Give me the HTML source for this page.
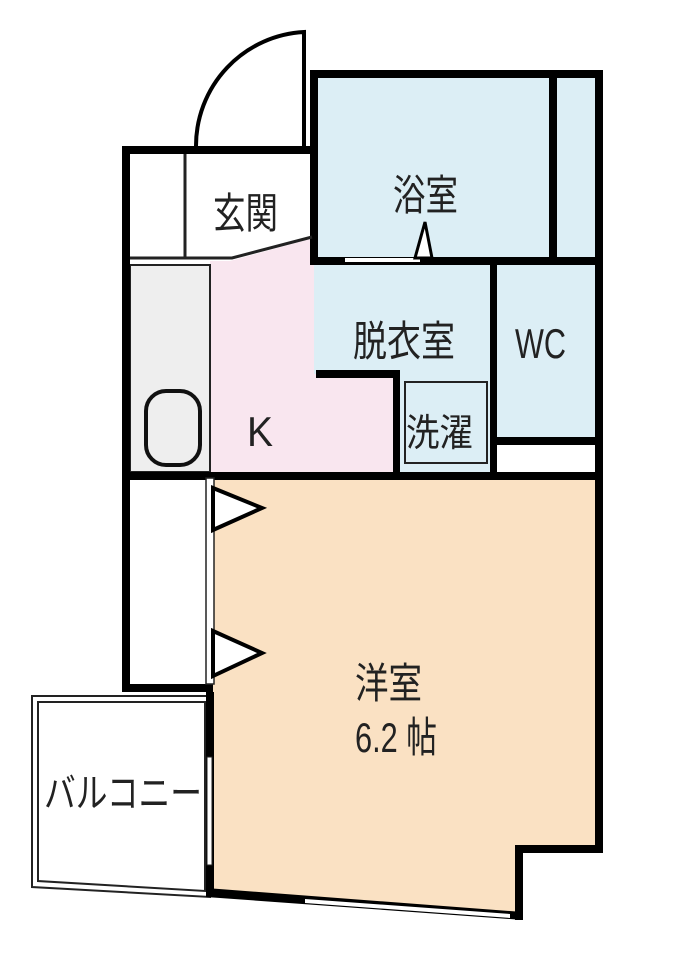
<!DOCTYPE html>
<html><head><meta charset="utf-8"><style>
html,body{margin:0;padding:0;background:#fff}
svg{display:block}
text{font-family:"Liberation Sans","Noto Sans CJK JP",sans-serif;fill:#222}
</style></head><body>
<svg width="676" height="966" viewBox="0 0 676 966" xmlns="http://www.w3.org/2000/svg">
<rect x="314" y="74" width="285" height="187" fill="#dcEEF5"/>
<rect x="314" y="261" width="180" height="215" fill="#dcEEF5"/>
<rect x="494" y="261" width="105" height="178" fill="#dcEEF5"/>
<polygon points="210,261 230,261 314,238 314,374 397,374 397,476 210,476" fill="#f9e6ef"/>
<rect x="130" y="265" width="80" height="207" fill="#eeeeee" stroke="#222" stroke-width="2"/>
<polygon points="210,476 599,476 599,849 519,849 519,918 210,895" fill="#fae1c3"/>
<polygon points="32,696 210,696 210,897 32,887" fill="#fff" stroke="#222" stroke-width="2"/>
<polygon points="38,702 205,702 205,891 38,881" fill="none" stroke="#222" stroke-width="2"/>
<path d="M304,146 L304,32 A114,114 0 0 0 196,146" fill="none" stroke="#000" stroke-width="4"/>
<rect x="302" y="32" width="4" height="114" fill="#000"/>
<g fill="#000">
<rect x="310" y="70" width="293" height="8"/>
<rect x="595" y="70" width="8" height="410"/>
<rect x="310" y="70" width="8" height="195"/>
<rect x="549" y="74" width="8" height="190"/>
<rect x="310" y="257" width="289" height="8"/>
<rect x="122" y="146" width="190" height="8"/>
<rect x="122" y="146" width="8" height="546"/>
<rect x="122" y="472" width="481" height="8"/>
<rect x="490" y="261" width="7" height="215"/>
<rect x="494" y="437" width="105" height="8"/>
<rect x="316" y="370" width="84" height="8"/>
<rect x="393" y="370" width="7" height="106"/>
<rect x="122" y="684" width="91" height="8"/>
<rect x="206" y="692" width="8" height="204"/>
<rect x="595" y="476" width="8" height="377"/>
<rect x="515" y="845" width="88" height="8"/>
<rect x="515" y="845" width="8" height="75"/>
<polygon points="206,888 523,912 523,920 206,897"/>
</g>
<line x1="185" y1="154" x2="185" y2="258" stroke="#222" stroke-width="3"/>
<polyline points="130,258 232,258 312,237" fill="none" stroke="#222" stroke-width="3"/>
<rect x="146" y="391" width="54" height="74" rx="20" fill="none" stroke="#111" stroke-width="4"/>
<rect x="345" y="258" width="75" height="4" fill="#fff"/>
<polygon points="415,258 425,222 432,258" fill="#fff" stroke="#000" stroke-width="3"/>
<rect x="405" y="382" width="82" height="81" fill="none" stroke="#222" stroke-width="2"/>
<rect x="206" y="478" width="8" height="206" fill="#fff" stroke="#222" stroke-width="1.5"/>
<polygon points="213,488 262,508 213,530" fill="#fff" stroke="#000" stroke-width="4"/>
<polygon points="213,631 262,653 213,676" fill="#fff" stroke="#000" stroke-width="4"/>
<rect x="207" y="757" width="5" height="108" fill="#fff" stroke="#222" stroke-width="1"/>
<polygon points="305,903 510,918 510,914 305,899" fill="#fff"/>
<g font-size="42" lengthAdjust="spacingAndGlyphs">
<text x="213" y="228" textLength="65" lengthAdjust="spacingAndGlyphs">玄関</text>
<text x="393" y="210" textLength="65" lengthAdjust="spacingAndGlyphs">浴室</text>
<text x="353" y="356" textLength="102" lengthAdjust="spacingAndGlyphs">脱衣室</text>
<text x="515" y="358" textLength="51" lengthAdjust="spacingAndGlyphs">WC</text>
<text x="406" y="446" font-size="38" textLength="67" lengthAdjust="spacingAndGlyphs">洗濯</text>
<text x="247" y="446" textLength="26" lengthAdjust="spacingAndGlyphs">K</text>
<text x="355" y="698" textLength="67" lengthAdjust="spacingAndGlyphs">洋室</text>
<text x="355" y="752" textLength="82" lengthAdjust="spacingAndGlyphs">6.2 帖</text>
<text x="44" y="807" font-size="40" textLength="158" lengthAdjust="spacingAndGlyphs">バルコニー</text>
</g>
</svg>
</body></html>
